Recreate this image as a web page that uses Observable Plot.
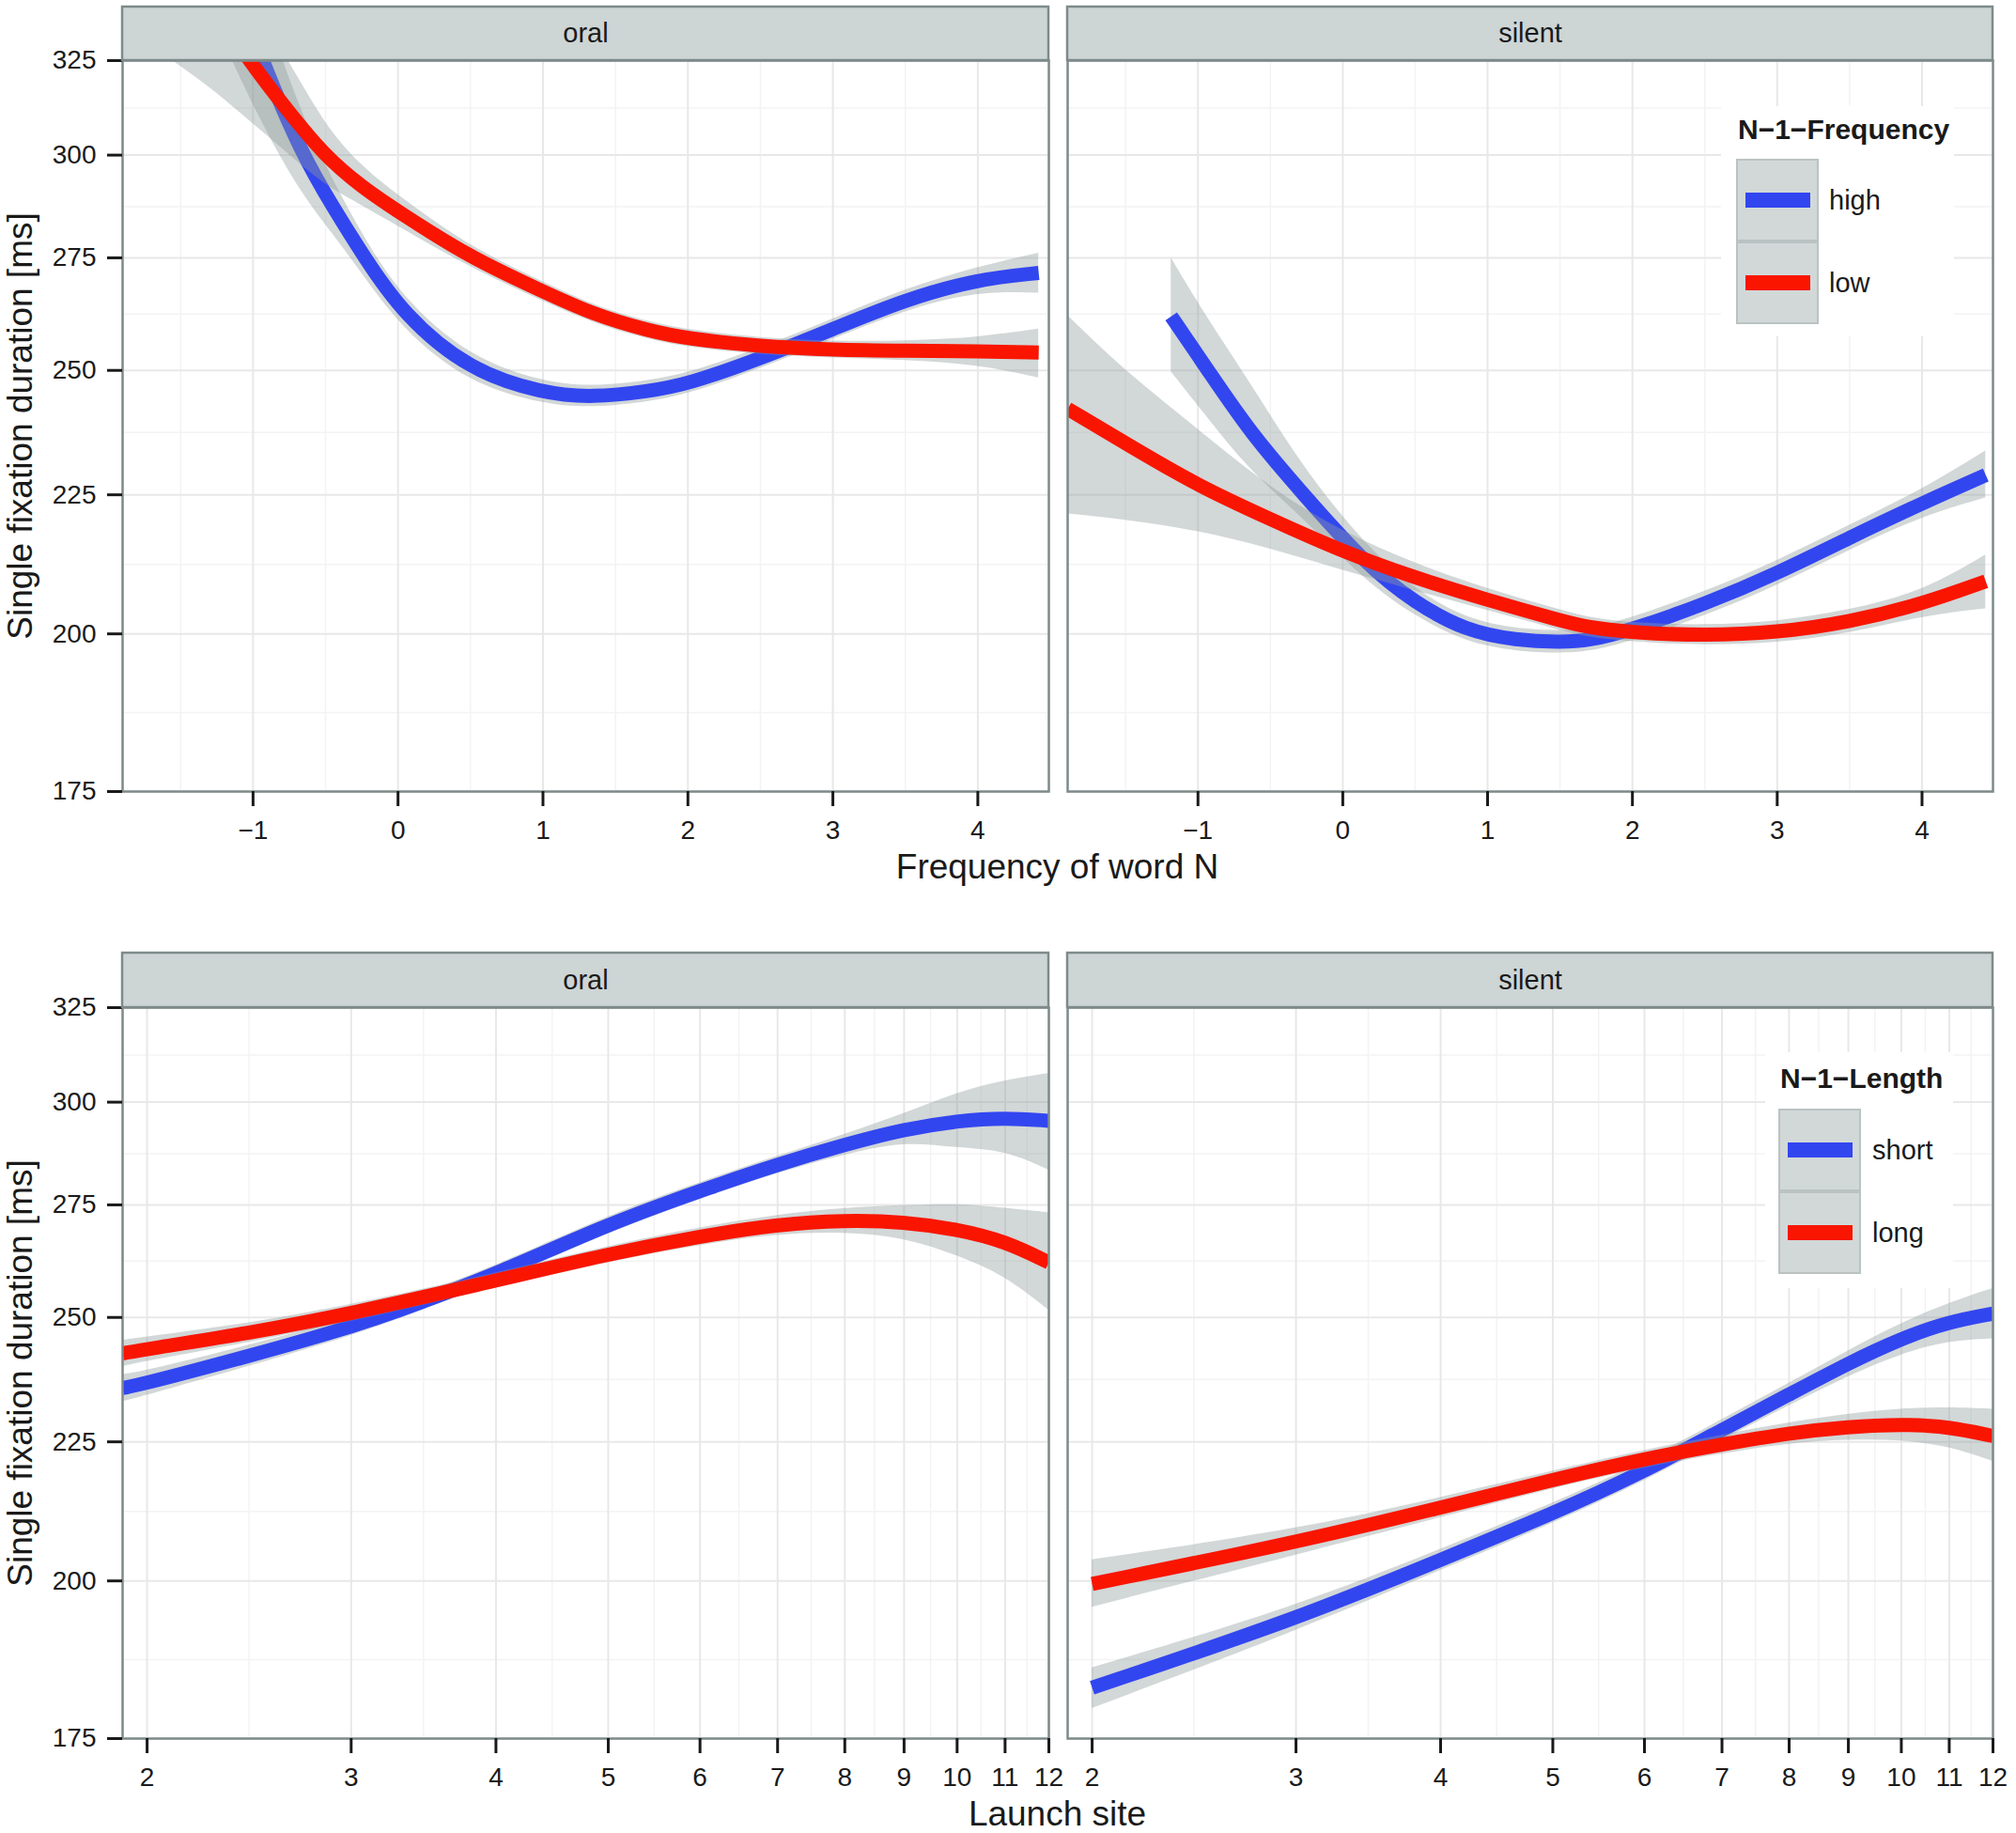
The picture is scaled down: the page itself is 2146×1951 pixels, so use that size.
<!DOCTYPE html>
<html>
<head>
<meta charset="utf-8">
<script src="https://cdn.jsdelivr.net/npm/d3@7"></script>
<script src="https://cdn.jsdelivr.net/npm/@observablehq/plot@0.6"></script>
<style>
html, body { margin: 0; padding: 0; background: #fff; overflow: hidden; }
#chart { position: relative; width: 2146px; height: 1951px; font-family: "Liberation Sans", Arial, Helvetica, sans-serif; color: #1a1a1a; }
.abs { position: absolute; white-space: nowrap; }
.title { font-size: 37px; line-height: 37px; text-align: center; }
.legbg { background: #fff; }
.legtitle { font-size: 30px; line-height: 30px; font-weight: bold; }
.leglabel { font-size: 29px; line-height: 29px; }
.keybox { background: #D2D8D8; border: 2px solid #BAC2C2; box-sizing: border-box; }
.keyline { height: 16px; }
</style>
</head>
<body>
<div id="chart"></div>
<script>
// ---------- axis definitions ----------
const freqTicks = [-1, 0, 1, 2, 3, 4];
const freqTickLabels = ["\u22121", "0", "1", "2", "3", "4"];
const freqMinor = [-1.5, -0.5, 0.5, 1.5, 2.5, 3.5];
const freqDomain = [-1.9, 4.49];

const launchTicks = [2, 3, 4, 5, 6, 7, 8, 9, 10, 11, 12];
const launchTickLabels = ["2", "3", "4", "5", "6", "7", "8", "9", "10", "11", "12"];
const launchMinor = [2.449, 3.464, 4.472, 5.477, 6.481, 7.483, 8.485, 9.487, 10.488, 11.489];
const launchDomain = [1.905, 12];

const yTicks = [175, 200, 225, 250, 275, 300, 325];
const yMinor = [187.1, 212.1, 237.2, 262.2, 287.2, 312.2];
const yDomain = [175, 325];

const facets = ["oral", "silent"];
const freqLevels = ["high", "low"];
const lengthLevels = ["short", "long"];
const colors = ["#3246F0", "#F91500"];

// ---------- top row: Frequency of word N ----------
// oral, N-1 frequency high
const oralHighX   = [-1.2, -0.94, -0.66, -0.45, -0.23, 0.035, 0.49, 1, 1.34, 1.73, 2, 2.5, 3, 3.5, 4, 4.42];
const oralHighFit = [355, 325, 300, 287.2, 275, 262.2, 250, 245.2, 244.3, 245.6, 247.1, 252.5, 258.9, 265.5, 270.1, 271.5];
const oralHighLo  = [330, 308, 290, 280.7, 270.5, 258.7, 247.2, 242.9, 242.1, 243.4, 244.9, 250.3, 256.7, 263.1, 267.3, 266.9];
const oralHighHi  = [380, 342, 310, 293.7, 279.5, 265.7, 252.8, 247.5, 246.5, 247.8, 249.3, 254.7, 261.1, 267.9, 272.9, 276.1];
// oral, N-1 frequency low
const oralLowX   = [-1.9, -1.6, -1.3, -1.03, -0.75, -0.51, -0.25, 0, 0.5, 1, 1.34, 1.73, 2, 2.5, 3, 3.5, 4, 4.42];
const oralLowFit = [385, 362, 342, 325, 311, 300, 292, 286, 275, 267.3, 262.2, 258.5, 256.8, 255.1, 254.4, 254.2, 254.1, 253.8];
const oralLowLo  = [336, 326, 318, 309, 300.2, 292.5, 287.5, 282.5, 272.6, 265.1, 260.2, 256.6, 254.9, 253.3, 252.6, 252.2, 251.2, 248.4];
const oralLowHi  = [440, 405, 370, 342, 325, 308, 297, 290, 277.4, 269.5, 264.2, 260.4, 258.7, 256.9, 256.2, 256.2, 257, 258.9];
// silent, N-1 frequency high
const silentHighX   = [-1.185, -0.93, -0.64, -0.27, 0.16, 0.5, 0.85, 1.2, 1.5, 1.69, 2, 2.5, 3, 3.5, 4, 4.44];
const silentHighFit = [261.7, 250, 237.2, 225, 212.1, 205.3, 200.5, 198.9, 198.6, 198.8, 200.7, 205.1, 210.5, 217, 223.4, 228.8];
const silentHighLo  = [249.7, 240, 229.6, 220.5, 209, 203, 198.5, 197, 196.7, 196.9, 198.7, 203, 208.3, 214.7, 220.9, 224.4];
const silentHighHi  = [275, 261, 247.5, 230, 215.5, 207.6, 202.5, 200.8, 200.5, 200.7, 202.7, 207.2, 212.7, 219.3, 225.9, 233.5];
// silent, N-1 frequency low
const silentLowX   = [-1.9, -1.48, -1, -0.5, 0, 0.5, 1, 1.5, 1.69, 2, 2.5, 3, 3.5, 4, 4.44];
const silentLowFit = [242, 234.7, 226.7, 220.4, 214.4, 209.7, 205.8, 202.3, 201.1, 200.2, 199.7, 200.2, 202, 205.1, 209.1];
const silentLowLo  = [221.4, 220.2, 218.3, 215, 211, 207.4, 204, 200.6, 199.4, 198.6, 198, 198.4, 200, 203, 204.3];
const silentLowHi  = [261.9, 249.2, 237.9, 226.2, 218, 212.2, 207.7, 204.1, 202.8, 201.8, 201.4, 202, 204, 207.2, 213.8];

// ---------- bottom row: Launch site ----------
// oral, N-1 length short
const oralShortX   = [1.905, 2, 3, 3.46, 4, 5, 6, 7, 8, 9, 10, 11, 12];
const oralShortFit = [235.5, 236.4, 247.7, 253.4, 259.3, 270.6, 278.3, 284.6, 289.4, 293.2, 295.3, 296.1, 295.3];
const oralShortLo  = [232.8, 234, 245.8, 251.6, 257.5, 268.6, 276.3, 282.6, 286.9, 290.2, 288.5, 288, 283.2];
const oralShortHi  = [238.2, 238.8, 249.6, 255.2, 261.1, 272.6, 280.3, 286.6, 291.9, 297, 302.5, 305.6, 307.4];
// oral, N-1 length long
const oralLongX   = [1.905, 2, 2.45, 3, 4, 5, 6, 7, 8, 9, 10, 11, 12];
const oralLongFit = [242.5, 243.4, 246.7, 250.8, 257.9, 263.8, 267.8, 270.5, 271.5, 271.1, 269.4, 266.7, 261.9];
const oralLongLo  = [239.8, 240.9, 244.7, 249, 256.3, 262, 265.8, 268.3, 268.7, 267.5, 263.5, 259, 251.5];
const oralLongHi  = [245.2, 245.9, 248.7, 252.6, 259.5, 265.6, 269.8, 272.7, 274.3, 274.8, 275.3, 274.2, 273.2];
// silent, N-1 length short
const silentShortX   = [2, 3, 4, 5, 6, 7, 8, 9, 10, 11, 12];
const silentShortFit = [182.7, 193.6, 203.6, 211.7, 219.4, 227.3, 234.2, 240.5, 245.6, 249.1, 250.8];
const silentShortLo  = [179.5, 191.6, 201.8, 209.9, 217.6, 225.3, 232, 237.9, 242.4, 245.1, 245.5];
const silentShortHi  = [185.8, 195.6, 205.4, 213.5, 221.2, 229.3, 236.4, 243.1, 248.8, 253.1, 256.2];
// silent, N-1 length long
const silentLongX   = [2, 3, 4, 5, 6, 7, 8, 9, 10, 11, 12];
const silentLongFit = [199.5, 206.6, 212.8, 217.9, 221.8, 224.5, 226.7, 227.9, 228.4, 227.9, 226.1];
const silentLongLo  = [195.6, 204.4, 211, 216.3, 220.2, 222.7, 224.7, 225.4, 225.4, 224.1, 221.3];
const silentLongHi  = [203.6, 208.8, 214.6, 219.5, 223.4, 226.3, 228.7, 230.4, 231.4, 231.7, 231.3];

// ---------- helpers ----------
const rows = (xs, fit, lo, hi) => xs.map((x, i) => ({x, fit: fit[i], lo: lo[i], hi: hi[i]}));

const BORDER = "#7E8A8A";
const FONT = '"Liberation Sans", Arial, Helvetica, sans-serif';
const FRAME_H = 778;
const CURVE = "basis";

function stripMark(h) {
  return (index, scales, values, dimensions) => {
    const {width, marginLeft, marginRight, marginTop} = dimensions;
    const r = document.createElementNS("http://www.w3.org/2000/svg", "rect");
    r.setAttribute("x", marginLeft);
    r.setAttribute("y", marginTop - h);
    r.setAttribute("width", width - marginLeft - marginRight);
    r.setAttribute("height", h);
    r.setAttribute("fill", "#CDD5D5");
    r.setAttribute("stroke", BORDER);
    r.setAttribute("stroke-width", 2.5);
    return r;
  };
}

function panel({xType, xDomain, xTicks, xTickLabels, xMinor, series, label, showY, marginLeft, marginRight, frameW, stripH}) {
  const marks = [
    Plot.gridX(xMinor, {stroke: "#F3F3F3", strokeOpacity: 1, strokeWidth: 1.5}),
    Plot.gridY(yMinor, {stroke: "#F3F3F3", strokeOpacity: 1, strokeWidth: 1.5}),
    Plot.gridX(xTicks, {stroke: "#E8E8E8", strokeOpacity: 1, strokeWidth: 2}),
    Plot.gridY(yTicks, {stroke: "#E8E8E8", strokeOpacity: 1, strokeWidth: 2})
  ];
  series.forEach((s, k) => {
    marks.push(Plot.areaY(s, {x: "x", y1: "lo", y2: "hi", fill: "#8F9C9C", fillOpacity: 0.4, curve: CURVE, clip: true}));
    marks.push(Plot.line(s, {x: "x", y: "fit", stroke: colors[k], strokeWidth: 15, strokeLinecap: "butt", strokeLinejoin: "round", curve: CURVE, clip: true}));
  });
  marks.push(Plot.frame({stroke: BORDER, strokeWidth: 2.5}));
  marks.push(Plot.axisX(xTicks, {
    tickSize: 16, tickPadding: 15, strokeWidth: 3, label: null, fontSize: 28,
    tickFormat: d => xTickLabels[xTicks.indexOf(d)]
  }));
  if (showY) {
    marks.push(Plot.axisY(yTicks, {
      tickSize: 16, tickPadding: 12, strokeWidth: 3, label: null, fontSize: 28,
      tickFormat: d => String(d)
    }));
  }
  marks.push(stripMark(stripH));
  marks.push(Plot.text([label], {frameAnchor: "top", dy: -stripH / 2, text: d => d, fontSize: 29, lineAnchor: "middle", fill: "#1a1a1a"}));
  return Plot.plot({
    width: marginLeft + frameW + marginRight,
    height: stripH + FRAME_H + 70,
    marginTop: stripH,
    marginBottom: 70,
    marginLeft,
    marginRight,
    style: {background: "transparent", overflow: "visible", fontFamily: FONT, fontSize: "28px", color: "#1a1a1a"},
    x: {type: xType, domain: xDomain, axis: null},
    y: {type: "log", domain: yDomain, axis: null},
    marks
  });
}

const chart = document.getElementById("chart");
function place(node, left, top) {
  node.style.position = "absolute";
  node.style.left = left + "px";
  node.style.top = top + "px";
  node.style.maxWidth = "none";
  chart.appendChild(node);
}

// top row
place(panel({
  xType: "linear", xDomain: freqDomain, xTicks: freqTicks, xTickLabels: freqTickLabels, xMinor: freqMinor,
  series: [rows(oralHighX, oralHighFit, oralHighLo, oralHighHi), rows(oralLowX, oralLowFit, oralLowLo, oralLowHi)],
  label: facets[0], showY: true, marginLeft: 130, marginRight: 22, frameW: 986, stripH: 57
}), 0, 7);
place(panel({
  xType: "linear", xDomain: freqDomain, xTicks: freqTicks, xTickLabels: freqTickLabels, xMinor: freqMinor,
  series: [rows(silentHighX, silentHighFit, silentHighLo, silentHighHi), rows(silentLowX, silentLowFit, silentLowLo, silentLowHi)],
  label: facets[1], showY: false, marginLeft: 10, marginRight: 25, frameW: 985, stripH: 57
}), 1126, 7);

// bottom row
place(panel({
  xType: "log", xDomain: launchDomain, xTicks: launchTicks, xTickLabels: launchTickLabels, xMinor: launchMinor,
  series: [rows(oralShortX, oralShortFit, oralShortLo, oralShortHi), rows(oralLongX, oralLongFit, oralLongLo, oralLongHi)],
  label: facets[0], showY: true, marginLeft: 130, marginRight: 22, frameW: 986, stripH: 58
}), 0, 1014);
place(panel({
  xType: "log", xDomain: launchDomain, xTicks: launchTicks, xTickLabels: launchTickLabels, xMinor: launchMinor,
  series: [rows(silentShortX, silentShortFit, silentShortLo, silentShortHi), rows(silentLongX, silentLongFit, silentLongLo, silentLongHi)],
  label: facets[1], showY: false, marginLeft: 10, marginRight: 25, frameW: 985, stripH: 58
}), 1126, 1014);

// ---------- titles ----------
function addDiv(cls, text, css) {
  const d = document.createElement("div");
  d.className = "abs " + cls;
  d.textContent = text;
  Object.assign(d.style, css);
  chart.appendChild(d);
  return d;
}
addDiv("title", "Frequency of word N", {left: "625.5px", top: "903.7px", width: "1000px"});
addDiv("title", "Launch site", {left: "625.5px", top: "1911.7px", width: "1000px"});
addDiv("title", "Single fixation duration [ms]", {left: (20.5 - 400) + "px", top: (453 - 18.5) + "px", width: "800px", height: "37px", transform: "rotate(-90deg)"});
addDiv("title", "Single fixation duration [ms]", {left: (20.5 - 400) + "px", top: (1461 - 18.5) + "px", width: "800px", height: "37px", transform: "rotate(-90deg)"});

// ---------- legends ----------
function legend({title, levels, bg, titleLeft, titleBase, boxLeft, boxTop, labelLeft}) {
  addDiv("legbg", "", {left: bg[0] + "px", top: bg[1] + "px", width: bg[2] + "px", height: bg[3] + "px"});
  addDiv("legtitle", title, {left: titleLeft + "px", top: (titleBase - 25.4) + "px"});
  levels.forEach((lv, i) => {
    const top = boxTop + i * 88;
    addDiv("keybox", "", {left: boxLeft + "px", top: top + "px", width: "88px", height: "88px"});
    addDiv("keyline", "", {left: (boxLeft + 10) + "px", top: (top + 36) + "px", width: "69px", background: colors[i]});
    addDiv("leglabel", lv, {left: labelLeft + "px", top: (top + 54 - 24.5) + "px"});
  });
}
legend({title: "N\u22121\u2212Frequency", levels: freqLevels, bg: [1832, 113, 248, 245], titleLeft: 1850, titleBase: 148, boxLeft: 1848, boxTop: 169, labelLeft: 1947});
legend({title: "N\u22121\u2212Length", levels: lengthLevels, bg: [1879, 1120, 200, 251], titleLeft: 1895, titleBase: 1158, boxLeft: 1893, boxTop: 1180, labelLeft: 1993});
</script>
</body>
</html>
